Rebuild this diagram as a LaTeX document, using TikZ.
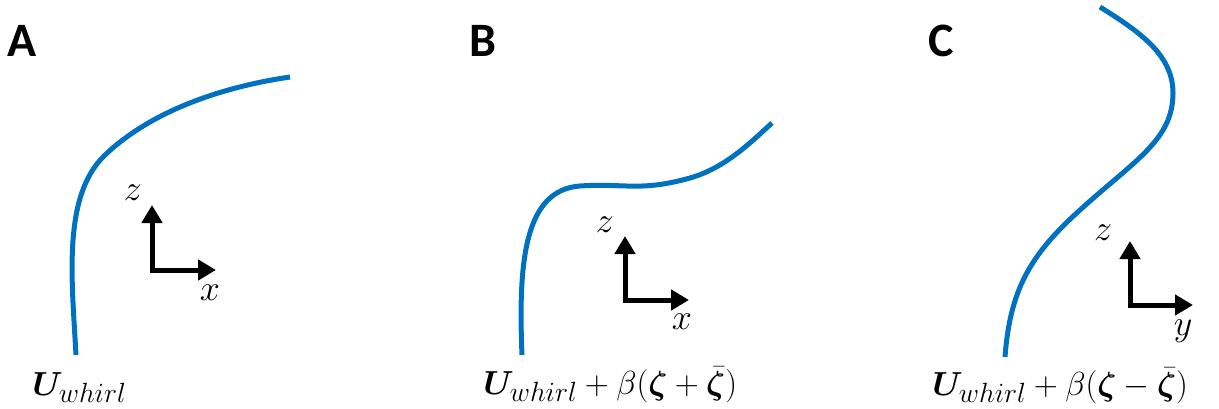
\documentclass[tikz,border=0pt]{standalone}
\usepackage{amsmath,bm}
\usepackage{fontspec}
\setsansfont{Carlito}
\usetikzlibrary{arrows.meta}
\definecolor{curveblue}{RGB}{0,112,192}
\tikzset{
  curve/.style={draw=curveblue, line width=5pt, line cap=butt},
  axis/.style={line width=5pt, line join=miter, {Triangle[width=20pt,length=18pt]}-{Triangle[width=20pt,length=18pt]}},
  panel/.style={font=\sffamily\bfseries\fontsize{48}{48}\selectfont, inner sep=0pt, anchor=base west},
  mlabel/.style={font=\fontsize{24.88}{26}\selectfont, inner sep=0pt, scale=1.34},
  axlabel/.style={font=\fontsize{24.88}{26}\selectfont, inner sep=0pt, scale=1.45},
}
\begin{document}
\begin{tikzpicture}[x=1pt,y=-1pt]
\useasboundingbox (0,0) rectangle (1219,409);

% Panel letters
\node[panel] (lA) at (7,57) {A};
\node[panel] (lB) at (469,57) {B};
\node[panel] (lC) at (928,57) {C};

% Curves
\draw[curve] (76,355) .. controls (72,280) and (62,196) .. (105,155)
                      .. controls (148,114) and (215,88) .. (290,77);
\draw[curve] (522,355) .. controls (518,260) and (525,190) .. (580,186)
                       .. controls (625,183) and (640,192) .. (690,178)
                       .. controls (725,168) and (750,143) .. (772,123);
\draw[curve] (1005,357) .. controls (1010,290) and (1030,255) .. (1080,210)
                        .. controls (1135,160) and (1173,140) .. (1173,93)
                        .. controls (1173,55) and (1140,32) .. (1100,7);

% Axes A
\coordinate (oA) at (152,270);
\coordinate (zA) at (152,205);
\coordinate (xA) at (216,270);
\draw[axis] (zA) -- (oA) -- (xA);
\node[axlabel] (tzA) at (133,193) {$z$};
\node[axlabel] (txA) at (210,293) {$x$};

% Axes B
\coordinate (oB) at (625,300);
\coordinate (zB) at (625,236);
\coordinate (xB) at (689,300);
\draw[axis] (zB) -- (oB) -- (xB);
\node[axlabel] (tzB) at (605,225) {$z$};
\node[axlabel] (txB) at (682,322) {$x$};

% Axes C
\coordinate (oC) at (1130,305);
\coordinate (zC) at (1130,241);
\coordinate (yC) at (1193,305);
\draw[axis] (zC) -- (oC) -- (yC);
\node[axlabel] (tzC) at (1103,233) {$z$};
\node[axlabel] (tyC) at (1183,331) {$y$};

% Bottom labels
\node[mlabel, anchor=base west] (uA) at (32,395) {$\bm{U}_{whirl}$};
\node[mlabel, anchor=base west] (uB) at (483,394) {$\bm{U}_{whirl}+\beta(\bm{\zeta}+\bar{\bm{\zeta}})$};
\node[mlabel, anchor=base west] (uC) at (932,395) {$\bm{U}_{whirl}+\beta(\bm{\zeta}-\bar{\bm{\zeta}})$};
\end{tikzpicture}
\end{document}
